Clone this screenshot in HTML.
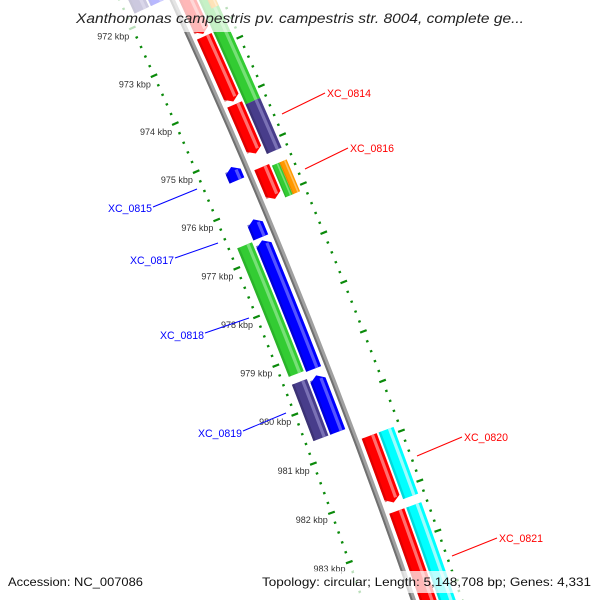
<!DOCTYPE html>
<html><head><meta charset="utf-8"><style>
html,body{margin:0;padding:0;background:#fff;width:600px;height:600px;overflow:hidden;}
svg{display:block;font-family:"Liberation Sans",sans-serif;}
</style></head><body>
<svg id="map" width="600" height="600" viewBox="0 0 600 600" xmlns="http://www.w3.org/2000/svg">
<g id="ticks"></g>
<g id="backbone"></g>
<g id="genes"></g>
<g id="glabels"></g>
<rect x="0" y="0" width="600" height="32" fill="#fff" opacity="0.72"/>
<text x="300" y="23" text-anchor="middle" font-size="14" font-style="italic" fill="#222" textLength="448" lengthAdjust="spacingAndGlyphs">Xanthomonas campestris pv. campestris str. 8004, complete ge...</text>
<rect x="4" y="571" width="144" height="22" fill="#fff" opacity="0.72"/>
<text x="8" y="586" font-size="12" fill="#111" textLength="135" lengthAdjust="spacingAndGlyphs">Accession: NC_007086</text>
<rect x="258" y="571" width="338" height="22" fill="#fff" opacity="0.72"/>
<text x="262" y="586" font-size="12" fill="#111" textLength="329" lengthAdjust="spacingAndGlyphs">Topology: circular; Length: 5,148,708 bp; Genes: 4,331</text>
</svg>
<script>
// ---- data ----
const geneStart = [969.5, 972.71, 974.12, 975.41, 980.88, 982.39, 969.5, 974.20, 975.46, 975.46, 969.5, 980.88, 982.39, 975.18, 976.26, 976.69, 979.45, 976.65, 979.45, 969.5, 969.5];
const geneEnd   = [972.66, 974.06, 975.13, 976.06, 982.22, 986.0, 974.20, 975.22, 976.11, 976.11, 972.29, 982.22, 986.0, 975.46, 976.63, 979.32, 980.60, 979.29, 980.60, 971.77, 971.77];
const geneTrack = ["o1","o1","o1","o1","o1","o1","o2","o2","o2a","o2b","o2b","o2","o2","i1","i1","i1","i1","i2","i2","i1","i2"];
const geneCat   = ["red","red","red","red","red","red","green","purple","green","orange","orange","cyan","cyan","blue","blue","blue","blue","green","purple","blue","purple"];
const geneStrand= [1,1,1,1,1,1,0,0,0,0,0,0,0,-1,-1,-1,-1,0,0,-1,0];
const tickLabels = [972,973,974,975,976,977,978,979,980,981,982,983];
const geneLabelText = ["XC_0814","XC_0816","XC_0815","XC_0817","XC_0818","XC_0819","XC_0820","XC_0821"];

// ---- geometry ----
const CX=-5786, CY=2742, R=6559, K0=976, A0=22.79, DPK=0.4614;
function ang(k){return -(A0-(k-K0)*DPK)*Math.PI/180;}
function P(k,r){const t=ang(k);return [CX+r*Math.cos(t),CY+r*Math.sin(t)];}
const NS="http://www.w3.org/2000/svg";
const colors={red:["#ff0000","#ff7070","#c00000"],green:["#33cc33","#77e077","#229922"],purple:["#483d8b","#7a71b5","#2f2760"],cyan:["#00ffff","#9ffcfc","#00b5b5"],blue:["#0000ff","#5555ff","#0000b0"],orange:["#ff9900","#ffc060","#cc7700"]};
const tracks={o1:[R+6,R+22],o2:[R+24,R+40],o2a:[R+24,R+32],o2b:[R+32,R+40],i1:[R-22,R-6],i2:[R-40,R-24]};

function arcPts(k1,k2,r,n){const a=[];for(let i=0;i<=n;i++){a.push(P(k1+(k2-k1)*i/n,r));}return a;}
function shape(s,e,r1,r2,strand){
  const tip=0.1; let pts=[];
  let bs=s,be=e;
  if(strand===1) be=Math.max(s,e-tip);
  if(strand===-1) bs=Math.min(e,s+tip);
  const n=Math.max(2,Math.ceil((be-bs)*4));
  pts=pts.concat(arcPts(bs,be,r1,n));
  if(strand===1) pts.push(P(e,(r1+r2)/2));
  pts=pts.concat(arcPts(be,bs,r2,n));
  if(strand===-1) pts.push(P(s,(r1+r2)/2));
  return pts.map(p=>p[0].toFixed(2)+","+p[1].toFixed(2)).join(" ");
}
const gG=document.getElementById("genes");
for(let i=0;i<geneStart.length;i++){
  const tr=tracks[geneTrack[i]], c=colors[geneCat[i]];
  const r1=tr[0], r2=tr[1], w=r2-r1;
  const g=document.createElementNS(NS,"g");
  
  
  const base=document.createElementNS(NS,"polygon");
  
  
  base.setAttribute("points",shape(geneStart[i],geneEnd[i],r1,r2,geneStrand[i]));
  base.setAttribute("fill",c[0]);
  g.appendChild(base);
  const dark=document.createElementNS(NS,"polygon");
  
  
  dark.setAttribute("points",shape(geneStart[i]+(geneStrand[i]===-1?0.06:0),geneEnd[i]-(geneStrand[i]===1?0.06:0),r1,r1+w*0.15,0));
  dark.setAttribute("fill",c[2]);dark.setAttribute("opacity","0.5");
  g.appendChild(dark);
  const hl=document.createElementNS(NS,"polygon");
  
  
  hl.setAttribute("points",shape(geneStart[i]+(geneStrand[i]===-1?0.08:0),geneEnd[i]-(geneStrand[i]===1?0.08:0),r1+w*0.62,r1+w*0.82,0));
  hl.setAttribute("fill",c[1]);
  g.appendChild(hl);
  gG.appendChild(g);
}

// backbone
const bb=document.getElementById("backbone");
function arcPath(k1,k2,r){const p1=P(k1,r),p2=P(k2,r);return "M"+p1[0]+","+p1[1]+" A"+r+","+r+" 0 0 1 "+p2[0]+","+p2[1];}
const b1=document.createElementNS(NS,"path");


b1.setAttribute("d",arcPath(969,987,R));b1.setAttribute("stroke","#a0a0a0");b1.setAttribute("stroke-width","5");b1.setAttribute("fill","none");
bb.appendChild(b1);
const b2=document.createElementNS(NS,"path");


b2.setAttribute("d",arcPath(969,987,R-1.5));b2.setAttribute("stroke","#707070");b2.setAttribute("stroke-width","2");b2.setAttribute("fill","none");
bb.appendChild(b2);

// ticks
const tg=document.getElementById("ticks");
const RI=R-48, RO=R+46;
for(let m=9690;m<=9870;m+=2){
  const k=m/10, major=(m%10===0);
  [[RI,-1],[RO,1]].forEach(function(ring){
    const len=major?7:2.5;
    const p1=P(k,ring[0]-len/2), p2=P(k,ring[0]+len/2);
    const ln=document.createElementNS(NS,"line");
    
    
    ln.setAttribute("x1",p1[0]);ln.setAttribute("y1",p1[1]);ln.setAttribute("x2",p2[0]);ln.setAttribute("y2",p2[1]);
    ln.setAttribute("stroke","#0a8a0a");ln.setAttribute("stroke-width","2.2");
    tg.appendChild(ln);
  });
}
tickLabels.forEach(function(k){
  const p=P(k,R-69);
  const t=document.createElementNS(NS,"text");
  
  
  t.setAttribute("x",p[0]);t.setAttribute("y",p[1]+3);
  t.setAttribute("text-anchor","middle");t.setAttribute("font-size","9");t.setAttribute("fill","#333");
  t.textContent=k+" kbp";
  tg.appendChild(t);
});

// gene labels (placement)
const lblX=[327,350,108,130,160,198,464,499], lblY=[97,152,212,264,339,437,441,542];
const lnA=[[282,114,325,93],[305,169,348,148],[153,207,197,189],[175,258,218,243],[205,333,249,318],[243,431,286,413],[417,456,462,437],[452,556,497,538]];
const lblColor=["#ff0000","#ff0000","#0000ff","#0000ff","#0000ff","#0000ff","#ff0000","#ff0000"];
const gl=document.getElementById("glabels");
for(let i=0;i<geneLabelText.length;i++){
  const ln=document.createElementNS(NS,"line");
  
  
  ln.setAttribute("x1",lnA[i][0]);ln.setAttribute("y1",lnA[i][1]);ln.setAttribute("x2",lnA[i][2]);ln.setAttribute("y2",lnA[i][3]);
  ln.setAttribute("stroke",lblColor[i]);ln.setAttribute("stroke-width","1");
  gl.appendChild(ln);
  const t=document.createElementNS(NS,"text");
  
  
  t.setAttribute("x",lblX[i]);t.setAttribute("y",lblY[i]);
  t.setAttribute("font-size","11");t.setAttribute("fill",lblColor[i]);
  t.setAttribute("textLength","44");t.setAttribute("lengthAdjust","spacingAndGlyphs");
  t.textContent=geneLabelText[i];
  gl.appendChild(t);
}
</script>
</body></html>
